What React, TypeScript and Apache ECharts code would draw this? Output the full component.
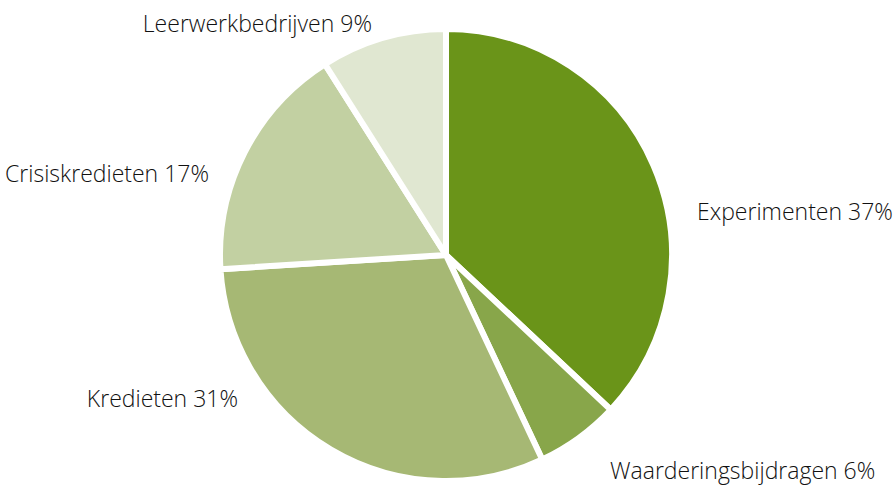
import React, { useEffect, useRef } from "react";
import * as echarts from "echarts";

const categories = ["Experimenten", "Waarderingsbijdragen", "Kredieten", "Crisiskredieten", "Leerwerkbedrijven"];
const values = [37, 6, 31, 17, 9];
const colors = ["#6a9419", "#88a64a", "#a6b874", "#c2d0a2", "#e0e7d1"];

// label anchor positions (x, y, align)
const labelAnchors: [number, number, "left" | "right"][] = [
  [697, 211, "left"],
  [610, 470, "left"],
  [238, 398, "right"],
  [209, 173, "right"],
  [372, 23, "right"],
];

export default function App() {
  const ref = useRef<HTMLDivElement>(null);
  useEffect(() => {
    const chart = echarts.init(ref.current!, null, { renderer: "svg" });
    chart.setOption({
      animation: false,
      backgroundColor: "#ffffff",
      series: [
        {
          type: "pie",
          center: [446, 255],
          radius: 226,
          startAngle: 90,
          clockwise: true,
          avoidLabelOverlap: false,
          data: categories.map((c, i) => ({
            name: c,
            value: values[i],
            itemStyle: { color: colors[i] },
          })),
          itemStyle: { borderColor: "#ffffff", borderWidth: 6 },
          label: {
            show: true,
            position: "outside",
            formatter: (p: any) => `${p.name} ${p.value}%`,
            fontFamily: "Open Sans",
            fontWeight: 300,
            fontSize: 23,
            lineHeight: 26,
            color: "#111111",
          },
          labelLine: { show: false },
          labelLayout: (params: any) => {
            const a = labelAnchors[params.dataIndex];
            return { x: a[0], y: a[1], align: a[2], verticalAlign: "middle" };
          },
        },
      ],
    });
    return () => chart.dispose();
  }, []);
  return <div ref={ref} style={{ position: "fixed", left: 0, top: 0, width: 893, height: 485 }} />;
}
